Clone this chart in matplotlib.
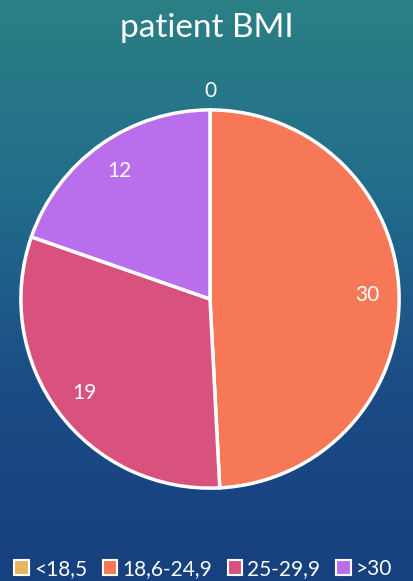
import numpy as np
import matplotlib
matplotlib.use("Agg")
import matplotlib.pyplot as plt
from matplotlib.colors import LinearSegmentedColormap

categories = ["<18,5", "18,6-24,9", "25-29,9", ">30"]
values = [0, 30, 19, 12]
colors = ["#E8B55C", "#F77856", "#D9527E", "#B96FEB"]
title = "patient BMI"

plt.rcParams['font.family'] = ['Lato', 'DejaVu Sans']

W, H = 414, 581
fig = plt.figure(figsize=(W / 100, H / 100), dpi=100)

# background gradient
bg = fig.add_axes([0, 0, 1, 1])
cmap = LinearSegmentedColormap.from_list("bg", ["#2B8085", "#226C8C", "#1B4C86", "#17407E"])
grad = np.linspace(0, 1, 256).reshape(-1, 1)
bg.imshow(grad, aspect="auto", cmap=cmap, extent=[0, 1, 0, 1], origin="upper")
bg.set_axis_off()

cx, cy, r = 210, 299, 191
ax = fig.add_axes([(cx - r) / W, (H - cy - r) / H, 2 * r / W, 2 * r / H])
ax.set_facecolor("none")
wedges, _ = ax.pie(values, colors=colors, startangle=90, counterclock=False,
                   wedgeprops=dict(edgecolor="white", linewidth=2.5))
ax.set_xlim(-1.01, 1.01)
ax.set_ylim(-1.01, 1.01)
ax.set_axis_off()

for w, v in zip(wedges, values):
    ang = np.deg2rad((w.theta1 + w.theta2) / 2)
    rr = 0.83 if v > 0 else 1.1
    ax.text(rr * np.cos(ang), rr * np.sin(ang), str(v),
            ha="center", va="center", color="white", fontsize=15, clip_on=False)

fig.text(0.5, 1 - 28 / H, title, ha="center", va="center", color="white", fontsize=24)

handles = [plt.Rectangle((0, 0), 1, 1, facecolor=c, edgecolor="white", linewidth=1.5) for c in colors]
fig.legend(handles, categories, loc="center left", bbox_to_anchor=(14 / W, 1 - 569 / H), ncol=4,
           frameon=False, fontsize=15, labelcolor="white", handlelength=0.7, handleheight=0.7,
           handletextpad=0.25, columnspacing=0.75, borderaxespad=0, borderpad=0)

fig.savefig("out.png", dpi=100)
